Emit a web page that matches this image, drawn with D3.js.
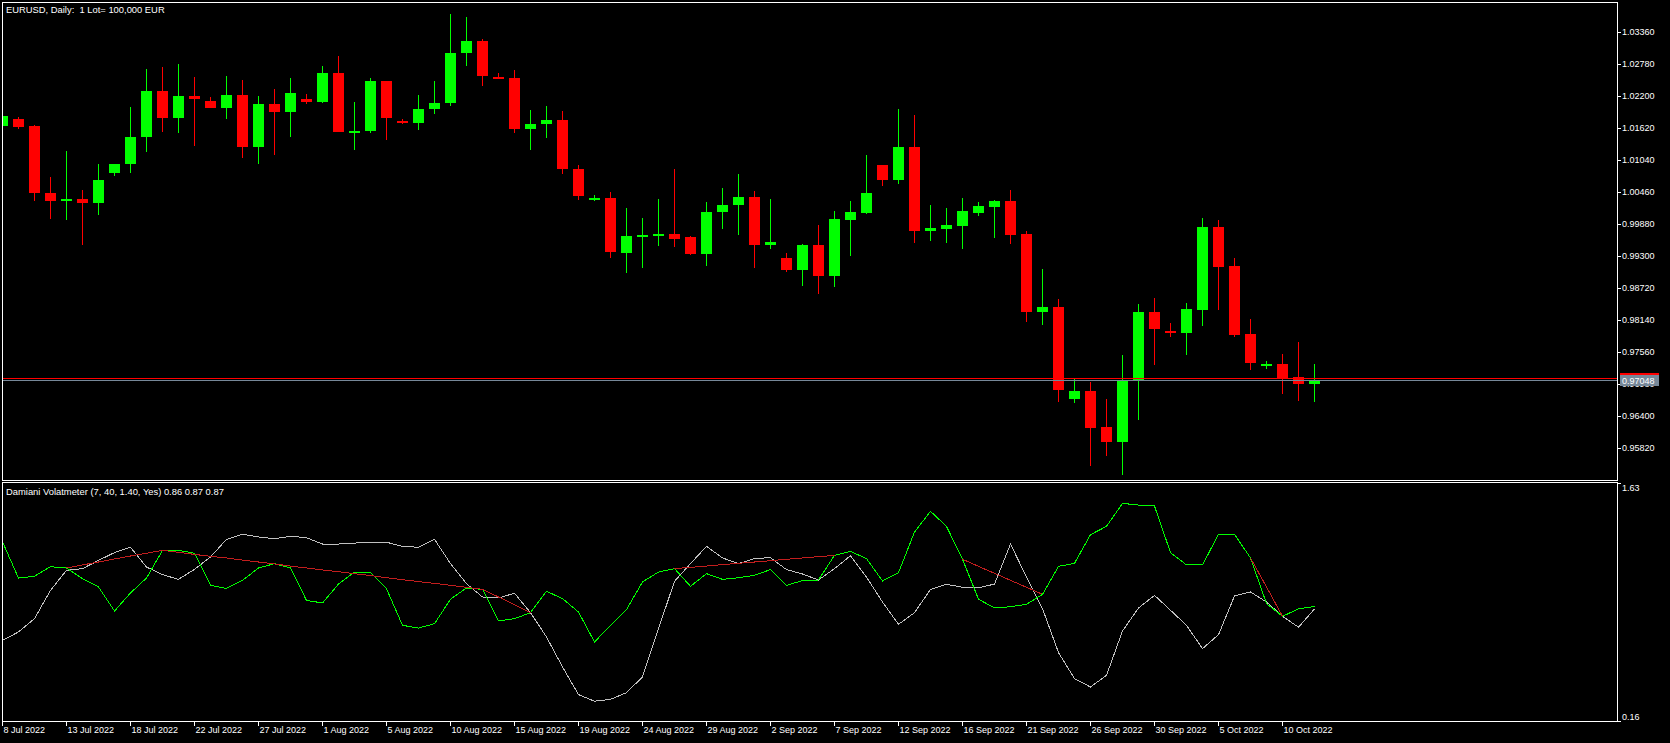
<!DOCTYPE html>
<html><head><meta charset="utf-8">
<script src="https://cdn.jsdelivr.net/npm/d3@7"></script>
<style>
html,body{margin:0;padding:0;background:#000;overflow:hidden}
svg{display:block}
text{font-family:"Liberation Sans",Arial,sans-serif;fill:#fff;white-space:pre}
</style></head><body>
<svg id="c" width="1670" height="743"></svg>
<script>
// ---------- DATA ----------
const barDates = ["2022-07-08","2022-07-10","2022-07-11","2022-07-12","2022-07-13","2022-07-14","2022-07-15","2022-07-17","2022-07-18","2022-07-19",
"2022-07-20","2022-07-21","2022-07-22","2022-07-24","2022-07-25","2022-07-26","2022-07-27","2022-07-28","2022-07-29","2022-07-31",
"2022-08-01","2022-08-02","2022-08-03","2022-08-04","2022-08-05","2022-08-07","2022-08-08","2022-08-09","2022-08-10","2022-08-11",
"2022-08-12","2022-08-14","2022-08-15","2022-08-16","2022-08-17","2022-08-18","2022-08-19","2022-08-21","2022-08-22","2022-08-23",
"2022-08-24","2022-08-25","2022-08-26","2022-08-28","2022-08-29","2022-08-30","2022-08-31","2022-09-01","2022-09-02","2022-09-04",
"2022-09-05","2022-09-06","2022-09-07","2022-09-08","2022-09-09","2022-09-11","2022-09-12","2022-09-13","2022-09-14","2022-09-15",
"2022-09-16","2022-09-18","2022-09-19","2022-09-20","2022-09-21","2022-09-22","2022-09-23","2022-09-25","2022-09-26","2022-09-27",
"2022-09-28","2022-09-29","2022-09-30","2022-10-02","2022-10-03","2022-10-04","2022-10-05","2022-10-06","2022-10-07","2022-10-09",
"2022-10-10","2022-10-11","2022-10-12"];

const opens = [1.01662,1.01789,1.01662,1.00435,1.00290,1.00339,1.00253,1.00797,1.00960,1.01450,
1.02296,1.01794,1.02205,1.02115,1.01975,1.02224,1.01268,1.02060,1.01903,1.02151,
1.02084,1.02622,1.01540,1.01558,1.02477,1.01752,1.01703,1.01957,1.02066,1.02972,
1.03202,1.02550,1.02532,1.01595,1.01685,1.01770,1.00882,1.00344,1.00357,0.99360,
0.99655,0.99668,0.99704,0.99650,0.99342,1.00090,1.00217,1.00375,0.99505,0.99269,
0.99052,0.99505,0.98943,0.99958,1.00085,1.00955,1.00683,1.01281,0.99759,0.99795,
0.99849,1.00085,1.00194,1.00302,0.99704,0.98290,0.98381,0.96714,0.96859,0.96206,
0.95934,0.97040,0.98290,0.97946,0.97910,0.98327,0.99831,0.99124,0.97892,0.97312,
0.97348,0.97112,0.96985];
const highs = [1.01843,1.01825,1.01680,1.00737,1.01209,1.00502,1.00973,1.00973,1.02006,1.02695,
1.02731,1.02785,1.02550,1.02187,1.02568,1.02495,1.02205,1.02332,1.02532,1.02242,
1.02749,1.02930,1.02097,1.02532,1.02477,1.01789,1.02224,1.02477,1.03692,1.03637,
1.03239,1.02622,1.02677,1.01952,1.02024,1.01934,1.00955,1.00411,1.00465,1.00175,
0.99994,1.00339,1.00882,0.99668,1.00284,1.00538,1.00792,1.00484,1.00339,0.99360,
0.99523,0.99867,1.00121,1.00302,1.01136,1.00955,1.01970,1.01861,1.00230,1.00175,
1.00357,1.00284,1.00320,1.00502,0.99759,0.99070,0.98526,0.97094,0.97022,0.96714,
0.97511,0.98435,0.98544,0.98091,0.98454,0.99994,0.99958,0.99269,0.98164,0.97402,
0.97529,0.97747,0.97348];
const lows = [1.01662,1.01607,1.00302,0.99976,0.99958,0.99505,1.00049,1.00743,1.00797,1.01178,
1.01540,1.01522,1.01287,1.01975,1.01776,1.01069,1.00960,1.01123,1.01450,1.02048,
1.02066,1.01540,1.01214,1.01522,1.01395,1.01685,1.01577,1.01866,1.02012,1.02737,
1.02374,1.02501,1.01522,1.01214,1.01432,1.00779,1.00308,1.00290,0.99257,0.98985,
0.99088,0.99474,0.99456,0.99324,0.99124,0.99795,0.99686,0.99088,0.99432,0.99015,
0.98762,0.98617,0.98744,0.99293,1.00067,1.00574,1.00610,0.99541,0.99577,0.99541,
0.99432,1.00030,0.99632,0.99523,0.98109,0.98055,0.96659,0.96641,0.95499,0.95680,
0.95336,0.96333,0.97330,0.97837,0.97511,0.98037,0.98327,0.97837,0.97239,0.97257,
0.96804,0.96677,0.96659];
const closes = [1.01843,1.01644,1.00435,1.00290,1.00339,1.00253,1.00683,1.00973,1.01462,1.02296,
1.01794,1.02205,1.02138,1.01975,1.02224,1.01268,1.02060,1.01903,1.02260,1.02084,
1.02622,1.01540,1.01571,1.02477,1.01794,1.01703,1.01970,1.02079,1.02985,1.03202,
1.02555,1.02519,1.01595,1.01698,1.01770,1.00870,1.00380,1.00357,0.99365,0.99668,
0.99686,0.99704,0.99601,0.99342,1.00103,1.00230,1.00375,0.99505,0.99559,0.99052,
0.99505,0.98943,0.99976,1.00103,1.00447,1.00683,1.01281,0.99759,0.99813,0.99867,
1.00121,1.00212,1.00302,0.99686,0.98290,0.98381,0.96877,0.96859,0.96188,0.95934,
0.97058,0.98290,0.97982,0.97915,0.98345,0.99831,0.99106,0.97874,0.97366,0.97348,
0.97094,0.96985,0.97048];

const bidPrice = 0.97048;
const askPrice = 0.97094;

// Damiani Volatmeter buffers
const volLine = [1.266,1.043,1.054,1.113,1.105,1.039,0.988,0.839,0.951,1.043,
1.214,1.214,1.196,0.998,0.979,1.029,1.105,1.132,1.105,0.905,
0.889,1.006,1.080,1.076,0.977,0.751,0.734,0.761,0.912,0.982,
0.973,0.778,0.792,0.829,0.961,0.916,0.833,0.648,0.751,0.848,
1.019,1.080,1.101,0.992,1.070,1.035,1.045,1.060,1.095,0.998,
1.027,1.031,1.183,1.208,1.163,1.025,1.076,1.327,1.455,1.362,
1.159,0.912,0.858,0.866,0.881,0.942,1.115,1.134,1.311,1.362,
1.504,1.494,1.488,1.200,1.124,1.124,1.313,1.313,1.167,0.885,
0.807,0.852,0.868];
const antiThresLine = [0.658,0.710,0.792,0.967,1.091,1.101,1.152,1.200,1.233,1.111,
1.064,1.035,1.097,1.173,1.282,1.313,1.297,1.286,1.301,1.292,
1.253,1.253,1.259,1.264,1.264,1.239,1.233,1.282,1.132,1.008,
0.926,0.920,0.949,0.829,0.679,0.494,0.323,0.282,0.294,0.335,
0.432,0.730,1.023,1.132,1.239,1.167,1.132,1.163,1.169,1.095,
1.068,1.031,1.101,1.181,1.049,0.895,0.757,0.829,0.973,1.004,
0.986,0.982,1.006,1.253,1.049,0.854,0.582,0.422,0.370,0.442,
0.716,0.858,0.936,0.844,0.751,0.607,0.693,0.932,0.957,0.895,
0.807,0.739,0.852];
const signalLine = [null,null,null,null,
1.105,1.124,1.142,1.161,1.179,1.196,1.214,
1.202,1.189,1.177,1.167,1.154,1.142,1.130,1.117,1.105,1.093,1.082,1.070,1.058,1.045,1.033,1.021,1.010,0.998,0.986,0.973,
0.926,0.879,0.829,
null,null,null,null,null,null,null,null,
1.101,1.109,1.117,1.126,1.134,1.142,1.150,1.159,1.167,1.175,1.183,
null,null,null,null,null,null,null,
1.159,1.115,1.072,1.029,0.986,0.942,
null,null,null,null,null,null,null,null,null,null,null,null,
1.167,0.988,0.807,
null,null];

const priceTicks = [1.03360,1.02780,1.02200,1.01620,1.01040,1.00460,0.99880,0.99300,0.98720,0.98140,0.97560,0.96980,0.96400,0.95820];
const dateTickIdx = [0,4,8,12,16,20,24,28,32,36,40,44,48,52,56,60,64,68,72,76,80];
const indTicks = [1.63, 0.16];
const chartTitle = "EURUSD, Daily:  1 Lot= 100,000 EUR";
const indTitle = "Damiani Volatmeter (7, 40, 1.40, Yes) 0.86 0.87 0.87";

// ---------- LAYOUT ----------
const L = 2, R = 1617, mainTop = 2, mainBot = 480, subTop = 482, subBot = 721;
const svg = d3.select("#c");
svg.append("rect").attr("width",1670).attr("height",743).attr("fill","#000");

const x = d3.scaleLinear().domain([0, 100]).range([2, 1602]);
const yP = d3.scaleLinear().domain([0.9582, 1.0336]).range([448, 32]);
const yI = d3.scaleLinear().domain([0.16, 1.63]).range([721, 483]);
const parse = d3.timeParse("%Y-%m-%d");
const fmt = d3.timeFormat("%-d %b %Y");

const defs = svg.append("defs");
defs.append("clipPath").attr("id","clipMain").append("rect")
  .attr("x",L+1).attr("y",mainTop+1).attr("width",R-L-1).attr("height",mainBot-mainTop-1);
defs.append("clipPath").attr("id","clipSub").append("rect")
  .attr("x",L+1).attr("y",subTop+1).attr("width",R-L-1).attr("height",subBot-subTop-1);

// ---------- CANDLES ----------
const gMain = svg.append("g").attr("clip-path","url(#clipMain)").attr("shape-rendering","crispEdges");
const idx = d3.range(opens.length);
const col = i => closes[i] >= opens[i] ? "#00ff00" : "#ff0000";
gMain.selectAll("rect.wick").data(idx).join("rect").attr("class","wick")
  .attr("x", i => x(i)).attr("width",1)
  .attr("y", i => Math.round(yP(highs[i])))
  .attr("height", i => Math.max(1, Math.round(yP(lows[i])) - Math.round(yP(highs[i]))))
  .attr("fill", col);
gMain.selectAll("rect.body").data(idx).join("rect").attr("class","body")
  .attr("x", i => x(i) - 5).attr("width", 11)
  .attr("y", i => Math.round(yP(Math.max(opens[i], closes[i]))))
  .attr("height", i => Math.max(2, Math.round(yP(Math.min(opens[i], closes[i]))) - Math.round(yP(Math.max(opens[i], closes[i])))))
  .attr("fill", col);

// bid / ask lines
gMain.append("line").attr("x1",L).attr("x2",R).attr("y1",Math.round(yP(askPrice))+0.5).attr("y2",Math.round(yP(askPrice))+0.5)
  .attr("stroke","#ff0000");
gMain.append("line").attr("x1",L).attr("x2",R).attr("y1",Math.round(yP(bidPrice))+0.5).attr("y2",Math.round(yP(bidPrice))+0.5)
  .attr("stroke","#778899");

// ---------- INDICATOR ----------
const gSub = svg.append("g").attr("clip-path","url(#clipSub)");
const line = d3.line().defined(d => d != null).x((d,i) => x(i) + 0.5).y(d => yI(d));
const drawLine = (arr, color) => gSub.append("path").attr("d", line(arr))
  .attr("fill","none").attr("stroke",color).attr("stroke-width",1).attr("shape-rendering","crispEdges");
drawLine(antiThresLine, "#c0c0c0");
drawLine(volLine, "#00ff00");
drawLine(signalLine, "#c21e1e");

// ---------- FRAMES ----------
const frame = svg.append("g").attr("fill","none").attr("stroke","#fff").attr("shape-rendering","crispEdges");
frame.append("rect").attr("x",L+0.5).attr("y",mainTop+0.5).attr("width",R-L).attr("height",mainBot-mainTop);
frame.append("rect").attr("x",L+0.5).attr("y",subTop+0.5).attr("width",R-L).attr("height",subBot-subTop);

// ---------- AXES ----------
const axP = svg.append("g").attr("transform",`translate(${R},0)`)
  .call(d3.axisRight(yP).tickValues(priceTicks).tickSize(4).tickPadding(1).tickFormat(d3.format(".5f")));
axP.select(".domain").remove();
axP.selectAll("line").attr("stroke","#fff").attr("shape-rendering","crispEdges");
axP.selectAll("text").attr("fill","#fff").style("font-size","9px").style("font-family",'"Liberation Sans",Arial,sans-serif');

// current price label
const by = Math.round(yP(bidPrice));
svg.append("rect").attr("x",R+3).attr("y",by-7).attr("width",39).attr("height",13).attr("fill","#778899");
svg.append("rect").attr("x",R+3).attr("y",by-7).attr("width",39).attr("height",2).attr("fill","#ff0000");
svg.append("text").attr("x",R+5).attr("y",by+0.5).attr("dy","0.35em").style("font-size","9px").attr("fill","#fff")
  .text(d3.format(".5f")(bidPrice));

// date axis
const axD = svg.append("g").attr("transform",`translate(0,${subBot})`)
  .call(d3.axisBottom(x).tickValues(dateTickIdx).tickSize(5).tickFormat(i => fmt(parse(barDates[i]))));
axD.select(".domain").remove();
axD.selectAll("line").attr("stroke","#fff").attr("shape-rendering","crispEdges");
axD.selectAll("text").attr("fill","#fff").attr("text-anchor","start").attr("x",1).attr("y",6).attr("dy","0.71em")
  .style("font-size","9px").style("font-family",'"Liberation Sans",Arial,sans-serif');

// indicator scale labels
const gI = svg.append("g");
gI.selectAll("line").data(indTicks).join("line")
  .attr("x1",R).attr("x2",R+4).attr("y1",d => Math.round(yI(d))+0.5).attr("y2",d => Math.round(yI(d))+0.5)
  .attr("stroke","#fff").attr("shape-rendering","crispEdges");
gI.selectAll("text").data(indTicks).join("text")
  .attr("x",R+5).attr("y",(d,k) => yI(d) + (k === 0 ? 4.5 : -4.5)).attr("dy","0.35em")
  .style("font-size","9px").text(d => d3.format(".2f")(d));

// titles
svg.append("text").attr("x",6).attr("y",9.5).attr("dy","0.35em").style("font-size","9.4px").text(chartTitle);
svg.append("text").attr("x",6).attr("y",492).attr("dy","0.35em").style("font-size","9.4px").text(indTitle);
</script>
</body></html>
